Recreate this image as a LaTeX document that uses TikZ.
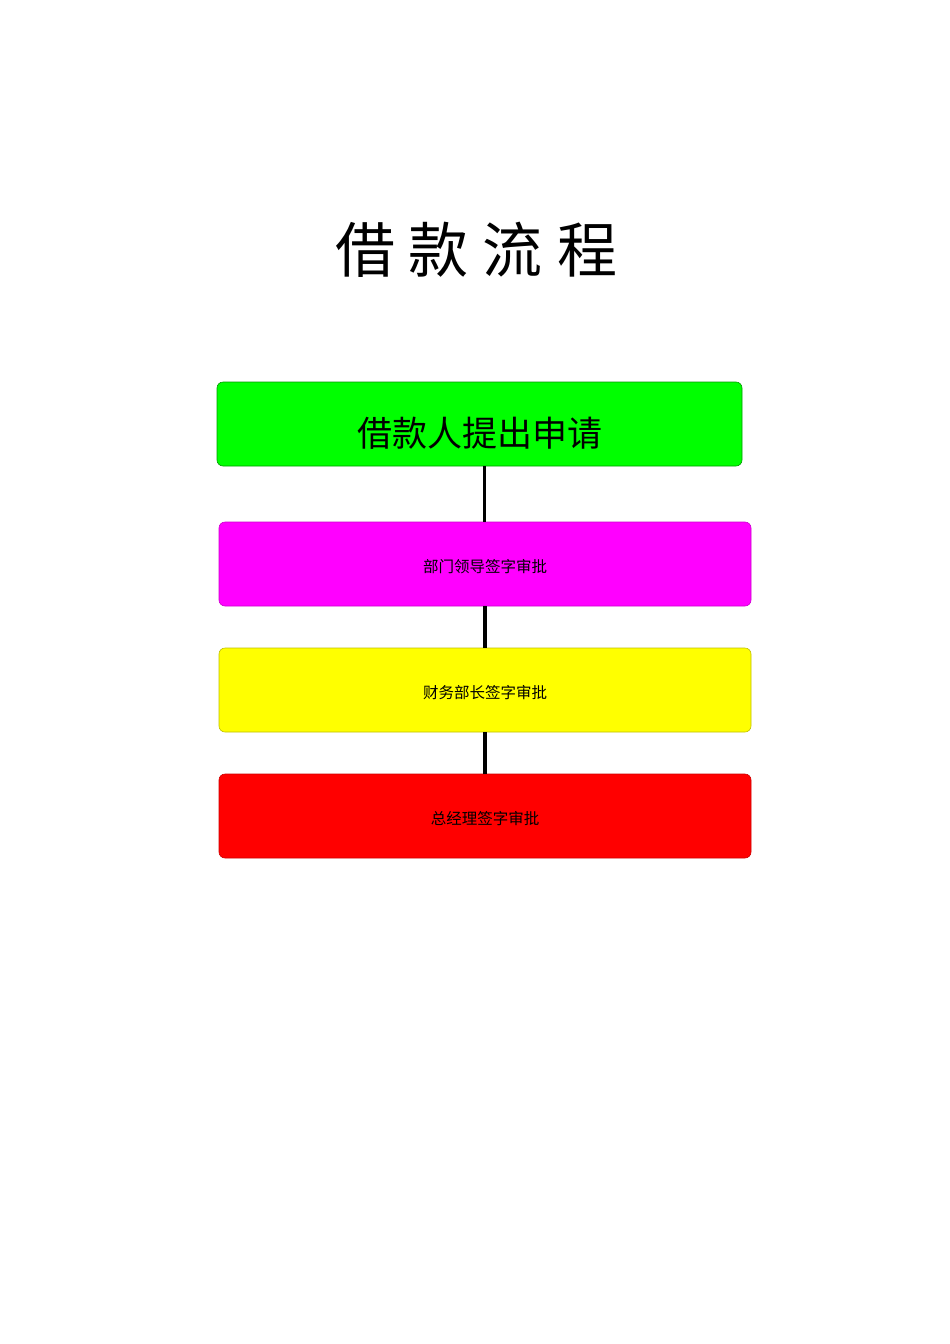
\documentclass[tikz,border=0pt]{standalone}
\usepackage{fontspec}
\newfontfamily\cjk{Noto Sans CJK SC}
\definecolor{bgreen}{RGB}{0,255,0}
\definecolor{bmag}{RGB}{255,0,255}
\definecolor{byel}{RGB}{255,255,0}
\definecolor{bred}{RGB}{255,0,0}
\begin{document}
\begin{tikzpicture}[x=1pt,y=-1pt,
  stepbox/.style={rectangle,rounded corners=6pt,minimum height=84pt,inner sep=0pt,line width=0.6pt},
  steptext/.style={font=\cjk\fontsize{15.5}{16}\selectfont},
  link/.style={line width=3.5pt,black}]
\useasboundingbox (0,0) rectangle (950,1344);
\node[font=\cjk\fontsize{60}{62}\selectfont] (title) at (476,250) {借\hspace{14pt}款\hspace{14pt}流\hspace{14pt}程};
\node[stepbox,fill=bgreen,draw=green!60!black,minimum width=525pt,
  label={[font=\cjk\fontsize{35}{36}\selectfont,yshift=-9pt]center:借款人提出申请}] (a) at (479.5,424) {};
\node[stepbox,fill=bmag,draw=bmag!80!black,minimum width=532pt,
  label={[steptext,yshift=-2.5pt]center:部门领导签字审批}] (b) at (485,564) {};
\node[stepbox,fill=byel,draw=byel!75!black,minimum width=532pt,
  label={[steptext,yshift=-2.5pt]center:财务部长签字审批}] (c) at (485,690) {};
\node[stepbox,fill=bred,draw=bred!80!black,minimum width=532pt,
  label={[steptext,yshift=-2.5pt]center:总经理签字审批}] (d) at (485,816) {};
\draw[link] (a.south -| 484.5,0) -- (b.north -| 484.5,0);
\draw[link] (b) -- (c);
\draw[link] (c) -- (d);
\end{tikzpicture}
\end{document}
